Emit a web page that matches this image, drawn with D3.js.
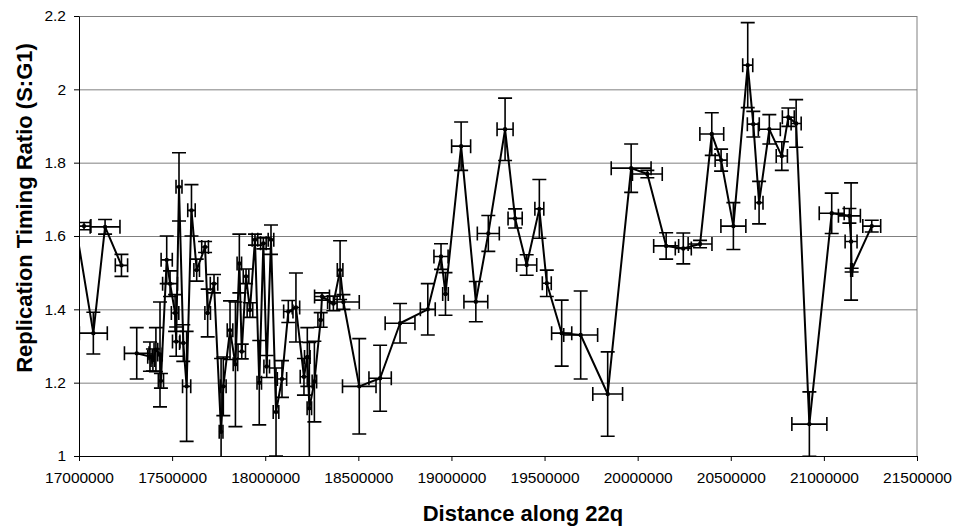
<!doctype html>
<html lang="en">
<head>
    <meta charset="UTF-8">
    <title>Replication timing along 22q</title>
    <style>
        html, body {
            margin: 0;
            padding: 0;
            background: #ffffff;
        }
        svg {
            display: block;
            font-family: "Liberation Sans", Arial, sans-serif;
        }
        .grid line {
            stroke: #808080;
            stroke-width: 1;
        }
        .grid path {
            display: none;
        }
        .axis path, .axis line {
            stroke: #000;
            stroke-width: 1;
        }
        .axis text {
            font-size: 15.5px;
            fill: #000;
        }
        .title {
            font-size: 22px;
            font-weight: bold;
        }
    </style>
</head>
<body>
<svg id="chart" width="958" height="531"></svg>

<script src="https://cdn.jsdelivr.net/npm/d3@7"></script>
<script>
  // null marks a break in the plotted line (empty row in the sheet)
  const positions = [
    17027000, null,
    16962000, 17077000, 17140000, 17228000, null,
    17310000, 17381000, 17397000, 17413000, 17435000, 17440000, 17471000, 17489000,
    17516000, 17522000, 17537000, 17560000, 17578000, 17604000, 17632000, 17677000,
    17691000, 17725000, 17763000, 17775000, 17811000, 17840000, 17861000, 17874000,
    17897000, 17918000, 17945000, 17968000, 17990000, 18008000, 18031000, 18058000,
    18090000, 18124000, 18165000, 18208000, 18226000, 18237000, 18264000, 18298000,
    18305000, 18366000, 18402000, 18420000, 18505000, 18617000, 18724000, 18873000,
    18944000, 18968000, 19052000, 19131000, 19198000, 19288000, 19342000, 19404000,
    19472000, 19512000, 19592000, 19694000, 19839000, 19965000, 20052000, 20153000,
    20245000, 20335000, 20398000, 20448000, 20514000, 20591000, 20621000, 20652000,
    20707000, 20774000, 20809000, 20851000, 20922000, 21042000, 21137000, 21146000,
    21149000, 21257000
  ]
  const ratios = [
    1.627, null,
    1.690, 1.335, 1.625, 1.520, null,
    1.280, 1.271, 1.262, 1.290, 1.277, 1.205, 1.535, 1.470,
    1.390, 1.312, 1.734, 1.308, 1.190, 1.670, 1.507, 1.570,
    1.390, 1.470, 1.066, 1.190, 1.343, 1.250, 1.525, 1.285,
    1.490, 1.398, 1.590, 1.200, 1.580, 1.244, 1.590, 1.120,
    1.210, 1.394, 1.405, 1.216, 1.270, 1.130, 1.203, 1.371,
    1.435, 1.416, 1.507, 1.420, 1.190, 1.212, 1.362, 1.400,
    1.544, 1.442, 1.845, 1.421, 1.607, 1.891, 1.648, 1.521,
    1.674, 1.471, 1.335, 1.330, 1.169, 1.785, 1.769, 1.573,
    1.566, 1.578, 1.878, 1.807, 1.627, 2.066, 1.905, 1.691,
    1.891, 1.818, 1.924, 1.907, 1.087, 1.662, 1.655, 1.585,
    1.507, 1.627
  ]
  const positionErr = [
    37000, null,
    30000, 75000, 80000, 33000, null,
    66000, 12000, 10000, 10000, 12000, 14000, 30000, 40000,
    20000, 20000, 16000, 20000, 22000, 20000, 15000, 18000,
    15000, 20000, 10000, 15000, 15000, 12000, 12000, 20000,
    15000, 15000, 15000, 12000, 15000, 15000, 15000, 15000,
    25000, 25000, 20000, 20000, 15000, 12000, 12000, 15000,
    40000, 20000, 15000, 85000, 90000, 60000, 80000, 40000,
    38000, 15000, 51000, 64000, 59000, 43000, 38000, 54000,
    24000, 24000, 54000, 91000, 80000, 107000, 80000, 67000,
    43000, 64000, 64000, 32000, 67000, 27000, 32000, 21000,
    59000, 30000, 32000, 27000, 94000, 67000, 59000, 32000,
    5000, 48000
  ]
  const ratioErr = [
    0.010, null,
    0.020, 0.057, 0.020, 0.030, null,
    0.070, 0.040, 0.030, 0.060, 0.143, 0.020, 0.065, 0.035,
    0.050, 0.040, 0.093, 0.050, 0.150, 0.070, 0.030, 0.015,
    0.065, 0.025, 0.200, 0.080, 0.080, 0.170, 0.080, 0.020,
    0.020, 0.020, 0.015, 0.115, 0.015, 0.030, 0.040, 0.120,
    0.050, 0.030, 0.094, 0.050, 0.080, 0.180, 0.110, 0.020,
    0.010, 0.020, 0.080, 0.020, 0.130, 0.090, 0.054, 0.070,
    0.035, 0.058, 0.066, 0.055, 0.049, 0.085, 0.026, 0.028,
    0.080, 0.036, 0.090, 0.120, 0.115, 0.066, 0.010, 0.036,
    0.042, 0.010, 0.058, 0.030, 0.064, 0.116, 0.035, 0.058,
    0.040, 0.039, 0.025, 0.065, 0.088, 0.055, 0.020, 0.160,
    0.005, 0.016
  ]
  const xTicks = [17000000, 17500000, 18000000, 18500000, 19000000, 19500000, 20000000, 20500000, 21000000, 21500000]
  const yTicks = [1, 1.2, 1.4, 1.6, 1.8, 2, 2.2]

  const margin = {top: 16, right: 41, bottom: 75, left: 79}
  const width = 958 - margin.left - margin.right
  const height = 531 - margin.top - margin.bottom
  const cap = 7

  const points = positions.map((p, i) => ({x: p, y: ratios[i], ex: positionErr[i], ey: ratioErr[i]}))
  const valid = points.filter(d => d.y != null)

  const x = d3.scaleLinear().domain([17000000, 21500000]).range([0, width])
  const y = d3.scaleLinear().domain([1, 2.2]).range([height, 0])

  const svg = d3.select('#chart')
  const g = svg.append('g').attr('transform', `translate(${margin.left},${margin.top})`)

  svg.append('defs').append('clipPath').attr('id', 'plot-clip')
    .append('rect').attr('width', width).attr('height', height + 1)

  // horizontal gridlines
  g.append('g')
    .attr('class', 'grid')
    .call(d3.axisLeft(y).tickValues(yTicks).tickSize(-width).tickFormat(''))

  // grey frame on the right
  g.append('line')
    .attr('x1', width).attr('x2', width).attr('y1', 0).attr('y2', height)
    .attr('stroke', '#808080')

  g.append('g')
    .attr('class', 'axis')
    .attr('transform', `translate(0,${height})`)
    .call(d3.axisBottom(x).tickValues(xTicks).tickSize(5).tickSizeOuter(0).tickFormat(d3.format('d')))
    .call(s => s.selectAll('text').attr('y', 27).attr('dy', 0))

  g.append('g')
    .attr('class', 'axis')
    .call(d3.axisLeft(y).tickValues(yTicks).tickSize(5).tickSizeOuter(0).tickFormat(d3.format('')))
    .call(s => s.selectAll('text').attr('x', -13))

  const plot = g.append('g').attr('clip-path', 'url(#plot-clip)')

  // error bars
  const bars = plot.append('g')
    .attr('stroke', '#000')
    .attr('stroke-width', 1.6)
    .attr('fill', 'none')

  bars.selectAll('path.ybar')
    .data(valid)
    .join('path')
    .attr('class', 'ybar')
    .attr('d', d => {
      const cx = x(d.x), y0 = y(d.y - d.ey), y1 = y(d.y + d.ey)
      return `M${cx},${y0}V${y1}M${cx - cap},${y0}H${cx + cap}M${cx - cap},${y1}H${cx + cap}`
    })

  bars.selectAll('path.xbar')
    .data(valid)
    .join('path')
    .attr('class', 'xbar')
    .attr('d', d => {
      const cy = y(d.y), x0 = x(d.x - d.ex), x1 = x(d.x + d.ex)
      return `M${x0},${cy}H${x1}M${x0},${cy - cap}V${cy + cap}M${x1},${cy - cap}V${cy + cap}`
    })

  const line = d3.line()
    .defined(d => d.y != null)
    .x(d => x(d.x))
    .y(d => y(d.y))

  plot.append('path')
    .datum(points)
    .attr('d', line)
    .attr('fill', 'none')
    .attr('stroke', '#000')
    .attr('stroke-width', 2)
    .attr('stroke-linejoin', 'round')

  plot.selectAll('circle')
    .data(valid)
    .join('circle')
    .attr('cx', d => x(d.x))
    .attr('cy', d => y(d.y))
    .attr('r', 2.2)
    .attr('fill', '#000')

  // axis titles
  svg.append('text')
    .attr('class', 'title')
    .attr('x', 523)
    .attr('y', 521)
    .attr('text-anchor', 'middle')
    .text('Distance along 22q')

  svg.append('text')
    .attr('class', 'title')
    .attr('transform', 'translate(32,208) rotate(-90)')
    .attr('text-anchor', 'middle')
    .text('Replication Timing Ratio (S:G1)')
</script>
</body>
</html>
